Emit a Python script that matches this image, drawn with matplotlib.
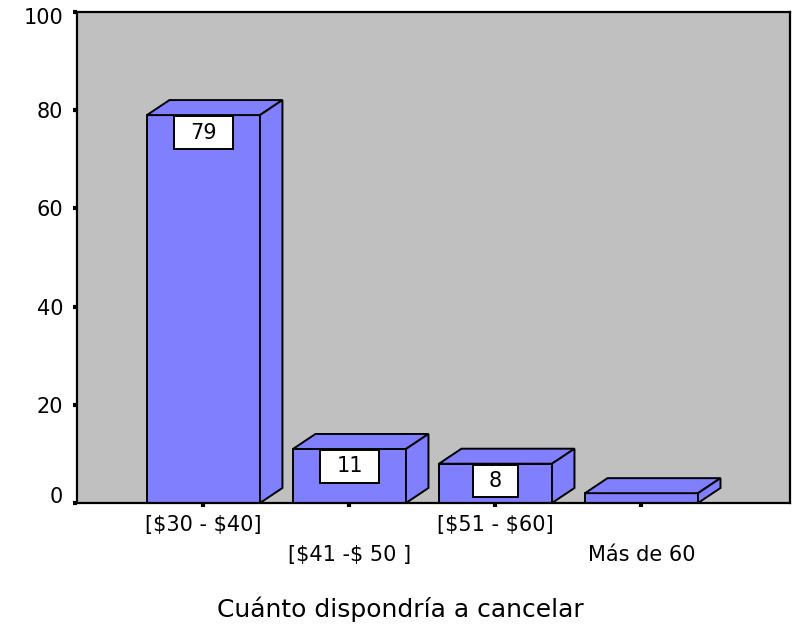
import matplotlib
matplotlib.use("Agg")
import matplotlib.pyplot as plt
from matplotlib.patches import Rectangle, Polygon
from matplotlib.path import Path
from matplotlib.transforms import ScaledTranslation

# Data
categories = ["[$30 - $40]", "[$41 -$ 50 ]", "[$51 - $60]", "Más de 60"]
percentages = [79, 11, 8, 2]
show_label = [True, True, True, False]
y_ticks = [0, 20, 40, 60, 80, 100]
x_title = "Cuánto dispondría a cancelar"

# Style
BAR_FACE = "#8080FF"
PLOT_BG = "#C0C0C0"
BAR_WIDTH = 0.774
DEPTH_X = 0.154      # 3D depth, x data units
DEPTH_Y = 3.06       # 3D depth, y data units
EDGE_LW = 1.4

plt.rcParams["font.family"] = ["DejaVu Sans"]


def label_box(x0, y0, width, height, mutation_size):
    """Rectangular label frame, wider padding left/right than top/bottom."""
    px = 0.76 * mutation_size
    py = 0.30 * mutation_size
    verts = [(x0 - px, y0 - py), (x0 + width + px, y0 - py),
             (x0 + width + px, y0 + height + py), (x0 - px, y0 + height + py),
             (x0 - px, y0 - py)]
    codes = [Path.MOVETO, Path.LINETO, Path.LINETO, Path.LINETO, Path.CLOSEPOLY]
    return Path(verts, codes)


fig = plt.figure(figsize=(7.93, 6.24), dpi=100)
ax = fig.add_axes([0.0971, 0.1939, 0.8991, 0.7869])
ax.set_facecolor(PLOT_BG)
ax.set_xlim(-0.866, 4.017)
ax.set_ylim(0, 100)

edge = dict(edgecolor="black", linewidth=EDGE_LW, joinstyle="miter")
for i, v in enumerate(percentages):
    x0 = i - BAR_WIDTH / 2
    x1 = i + BAR_WIDTH / 2
    ax.add_patch(Rectangle((x0, 0), BAR_WIDTH, v, facecolor=BAR_FACE, zorder=2, **edge))
    ax.add_patch(Polygon([(x0, v), (x1, v), (x1 + DEPTH_X, v + DEPTH_Y), (x0 + DEPTH_X, v + DEPTH_Y)],
                         closed=True, facecolor=BAR_FACE, zorder=2, **edge))
    ax.add_patch(Polygon([(x1, 0), (x1 + DEPTH_X, DEPTH_Y), (x1 + DEPTH_X, v + DEPTH_Y), (x1, v)],
                         closed=True, facecolor=BAR_FACE, zorder=2, **edge))
    if show_label[i]:
        ax.annotate(f"{v}", xy=(i, v), xytext=(0, -12.6), textcoords="offset points",
                    ha="center", va="center", fontsize=15, zorder=3,
                    bbox=dict(boxstyle=label_box, facecolor="white",
                              edgecolor="black", linewidth=EDGE_LW))

# Axes frame and ticks
for s in ax.spines.values():
    s.set_linewidth(1.6)
    s.set_zorder(4)

ax.set_yticks(y_ticks)
ax.set_yticklabels([str(t) for t in y_ticks])
ax.tick_params(axis="y", direction="out", length=3, width=3, pad=7, labelsize=15)
ax.set_xticks(range(len(categories)))
ax.tick_params(axis="x", direction="out", length=3, width=3, labelbottom=False)

# The end labels sit nudged inward along the axis
ylabels = ax.get_yticklabels()
ylabels[0].set_transform(ylabels[0].get_transform() + ScaledTranslation(0, 8 / 100, fig.dpi_scale_trans))
ylabels[-1].set_transform(ylabels[-1].get_transform() + ScaledTranslation(0, -4 / 100, fig.dpi_scale_trans))

# Staggered category labels
for i, name in enumerate(categories):
    offset = -15.8 if i % 2 == 0 else -37.4
    ax.annotate(name, xy=(i, 0), xycoords=("data", "axes fraction"),
                xytext=(0, offset), textcoords="offset points",
                ha="center", va="center", fontsize=15, annotation_clip=False,
                parse_math=False)

fig.text(0.505, 1 - 609 / 624, x_title, ha="center", va="center", fontsize=18)

fig.savefig("out.png", dpi=100)
